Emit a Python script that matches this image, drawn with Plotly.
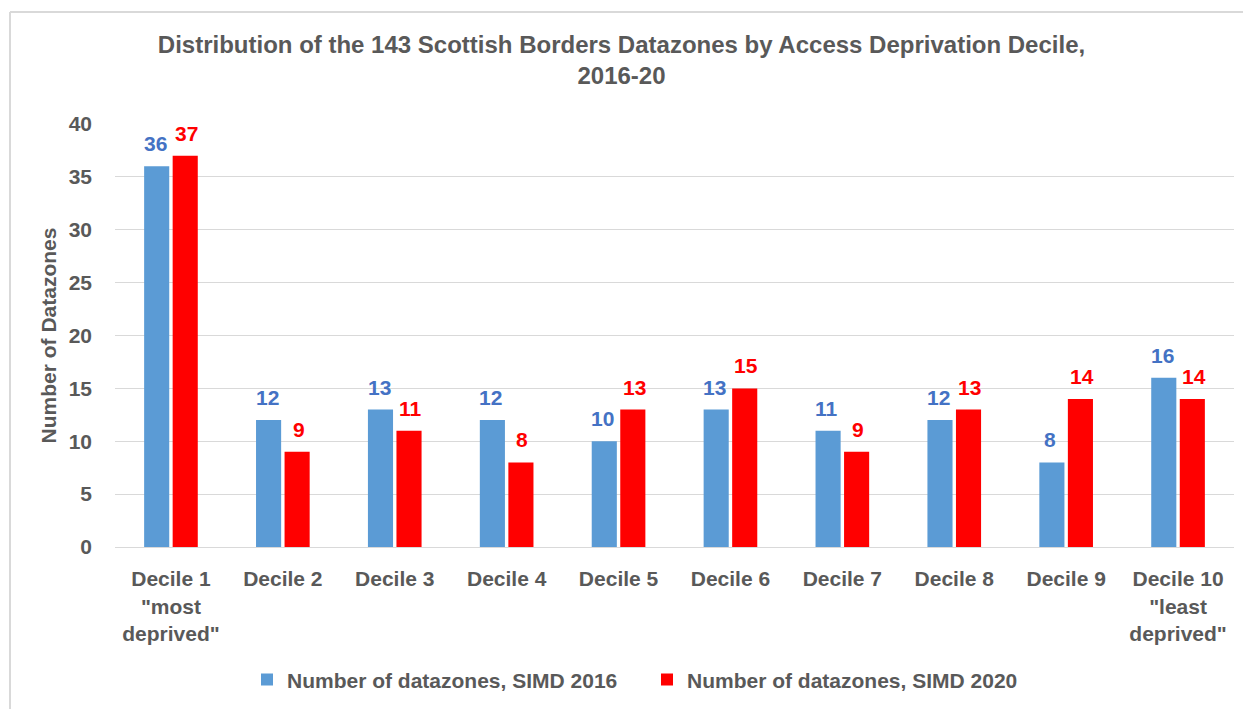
import plotly.graph_objects as go

# Deciles of the Scottish Index of Multiple Deprivation (access domain)
deciles = [
    'Decile 1<br>"most<br>deprived"',
    "Decile 2", "Decile 3", "Decile 4", "Decile 5",
    "Decile 6", "Decile 7", "Decile 8", "Decile 9",
    'Decile 10<br>"least<br>deprived"',
]
simd_2016 = [36, 12, 13, 12, 10, 13, 11, 12, 8, 16]
simd_2020 = [37, 9, 11, 8, 13, 15, 9, 13, 14, 14]

series_names = ["Number of datazones, SIMD 2016", "Number of datazones, SIMD 2020"]
y_ticks = [0, 5, 10, 15, 20, 25, 30, 35, 40]

FONT = "Liberation Sans, Arial, sans-serif"
GREY_TEXT = "#595959"
GRID = "#D9D9D9"
BLUE = "#5B9BD5"
BLUE_LABEL = "#4472C4"
RED = "#FF0000"

fig = go.Figure()
fig.add_trace(go.Bar(
    x=deciles, y=simd_2016, name=series_names[0],
    marker=dict(color=BLUE, line=dict(width=0)),
))
fig.add_trace(go.Bar(
    x=deciles, y=simd_2020, name=series_names[1],
    marker=dict(color=RED, line=dict(width=0)),
))

# value labels above each bar, centred over the bar within its group
label_offset = 0.14  # category units from the group centre to each bar centre
annotations = []
for i in range(len(deciles)):
    for val, dx, col in ((simd_2016[i], -label_offset, BLUE_LABEL),
                         (simd_2020[i], label_offset, RED)):
        annotations.append(dict(
            x=i + dx, y=val, xref="x", yref="y", text=str(val),
            showarrow=False, yanchor="bottom", xanchor="center", yshift=9,
            font=dict(family=FONT, size=21, color=col, weight="bold"),
        ))

fig.update_layout(
    width=1243, height=709,
    margin=dict(l=115, r=9, t=124, b=162),
    paper_bgcolor="white", plot_bgcolor="white",
    font=dict(family=FONT, color=GREY_TEXT, size=21, weight="bold"),
    title=dict(
        text="Distribution of the 143 Scottish Borders Datazones by Access Deprivation Decile,<br>2016-20",
        x=0.5, xref="container", xanchor="center",
        y=1 - 53 / 709, yref="container", yanchor="top",
        font=dict(family=FONT, size=24, color=GREY_TEXT, weight="bold"),
    ),
    barmode="group", bargap=0.49, bargroupgap=0.12,
    showlegend=True,
    legend=dict(
        orientation="h", x=(247 - 115) / 1119, xanchor="left",
        y=-0.314, yanchor="middle", entrywidth=355,
        font=dict(family=FONT, size=21, color=GREY_TEXT, weight="bold"),
        traceorder="normal",
    ),
    xaxis=dict(
        showline=True, linecolor=GRID, linewidth=1, ticks="",
        showgrid=False, ticklabelstandoff=13,
        tickfont=dict(family=FONT, size=21, color=GREY_TEXT, weight="bold"),
    ),
    yaxis=dict(
        range=[0, 40], tickvals=y_ticks, showgrid=True, gridcolor=GRID, gridwidth=1,
        zeroline=False, showline=False, ticks="", ticklabelstandoff=22,
        tickfont=dict(family=FONT, size=21, color=GREY_TEXT, weight="bold"),
        title=dict(text="Number of Datazones", standoff=6,
                   font=dict(family=FONT, size=21, color=GREY_TEXT, weight="bold")),
    ),
    annotations=annotations,
    shapes=[
        # light frame around the chart area (top and left edges)
        dict(type="line", xref="paper", yref="paper",
             x0=(10 - 115) / 1119, x1=(1250 - 115) / 1119,
             y0=(547 - 12) / 423, y1=(547 - 12) / 423,
             line=dict(color=GRID, width=2)),
        dict(type="line", xref="paper", yref="paper",
             x0=(10 - 115) / 1119, x1=(10 - 115) / 1119,
             y0=(547 - 12) / 423, y1=(547 - 720) / 423,
             line=dict(color=GRID, width=2)),
    ],
)

fig.write_html("out.html")
